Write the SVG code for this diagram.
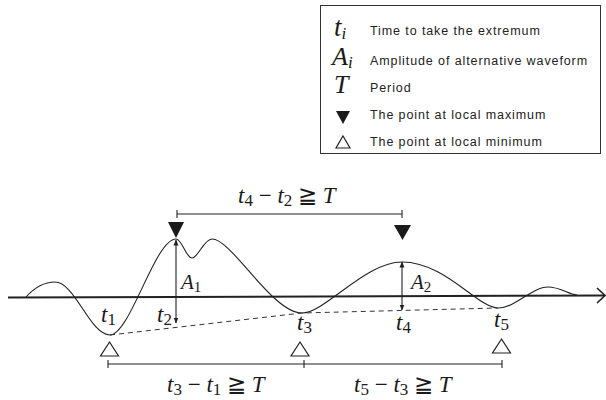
<svg xmlns="http://www.w3.org/2000/svg" width="606" height="400" viewBox="0 0 606 400">
<defs>
<style>
.m{font-family:"Liberation Serif","DejaVu Serif",serif;font-style:italic;fill:#1a1a1a}
.sub{font-family:"Liberation Serif","DejaVu Serif",serif;font-style:normal}
.n{font-family:"Liberation Serif","DejaVu Serif",serif;font-style:normal;fill:#1a1a1a}
.lg{font-family:"Liberation Sans",Arial,sans-serif;font-size:12.5px;letter-spacing:0.9px;fill:#222}
.ln{stroke:#222;stroke-width:1.1;fill:none}
.dn{fill:#1a1a1a}
.up{fill:#fff;stroke:#222;stroke-width:1.2}
</style>
<marker id="ah" viewBox="0 0 6 6" refX="5.5" refY="3" markerWidth="6" markerHeight="6" orient="auto-start-reverse" markerUnits="userSpaceOnUse">
<path d="M0,0.5 L6,3 L0,5.5 z" fill="#222"/>
</marker>
</defs>
<rect width="606" height="400" fill="#fff"/>

<g id="legend">
<rect x="320.5" y="5.5" width="280" height="148" fill="#fff" stroke="#333" stroke-width="1"/>
<text class="m" x="334" y="36" font-size="27">t<tspan class="m" font-size="17" dy="3">i</tspan></text>
<text class="lg" x="370" y="35">Time to take the extremum</text>
<text class="m" x="332" y="65" font-size="26">A<tspan class="m" font-size="17" dy="3">i</tspan></text>
<text class="lg" x="370" y="65">Amplitude of alternative waveform</text>
<text class="m" x="334" y="93" font-size="26">T</text>
<text class="lg" x="370" y="92">Period</text>
<path class="dn" d="M336,111 L350,111 L343,124 z"/>
<text class="lg" x="370" y="119">The point at local maximum</text>
<path class="up" d="M343,136 L350,148 L336,148 z" stroke-width="1"/>
<text class="lg" x="370" y="146">The point at local minimum</text>
</g>

<g id="axis">
<line x1="8" y1="297.5" x2="604" y2="295.5" stroke="#222" stroke-width="2"/>
<path d="M597,288 L605,295.5 L597,303" fill="none" stroke="#222" stroke-width="1.6"/>
</g>

<g id="wave">
<path class="ln" d="M26,297 C35,287 45,282 55,282 C75,282 90,335 110,335 C130,335 155,239 176,239 C182,239 186,258 192,258 C198,258 204,239 212,239 C232,239 272,313 302,313 C325,313 365,262 402,262 C445,262 478,308 498,308 C515,308 532,287 548,287 C560,287 568,294 577,295"/>
</g>

<g id="connectors">
<path d="M110,335 L302,313 L498,308" fill="none" stroke="#333" stroke-width="1" stroke-dasharray="5,4"/>
<line class="ln" x1="176" y1="240" x2="176" y2="323" marker-start="url(#ah)" marker-end="url(#ah)" stroke-width="1"/>
<line class="ln" x1="402" y1="262" x2="402" y2="310" marker-start="url(#ah)" marker-end="url(#ah)" stroke-width="1"/>
<line class="ln" x1="177" y1="214" x2="402" y2="214"/>
<line class="ln" x1="177" y1="210" x2="177" y2="218"/>
<line class="ln" x1="402" y1="210" x2="402" y2="218"/>
<line class="ln" x1="108" y1="364" x2="502" y2="364"/>
<line class="ln" x1="108" y1="360" x2="108" y2="368"/>
<line class="ln" x1="304" y1="360" x2="304" y2="368"/>
<line class="ln" x1="502" y1="360" x2="502" y2="368"/>
</g>

<g id="max1"><path class="dn" d="M168,222 L184,222 L176,238 z"/></g>
<g id="max2"><path class="dn" d="M394,225 L411,225 L402.5,240 z"/></g>
<g id="min1"><path class="up" d="M109.5,342 L118.5,356 L100.5,356 z"/></g>
<g id="min3"><path class="up" d="M300,342 L309,356 L291,356 z"/></g>
<g id="min5"><path class="up" d="M501.5,339 L510.5,353 L492.5,353 z"/></g>

<g id="labels">
<text class="m" x="101" y="322" font-size="23">t<tspan class="sub" font-size="17" dy="3">1</tspan></text>
<text class="m" x="157" y="322" font-size="23">t<tspan class="sub" font-size="17" dy="3">2</tspan></text>
<text class="m" x="297" y="330" font-size="23">t<tspan class="sub" font-size="17" dy="3">3</tspan></text>
<text class="m" x="396" y="330" font-size="23">t<tspan class="sub" font-size="17" dy="3">4</tspan></text>
<text class="m" x="494" y="327" font-size="23">t<tspan class="sub" font-size="17" dy="3">5</tspan></text>
<text class="m" x="181" y="289" font-size="21">A<tspan class="sub" font-size="15" dy="3">1</tspan></text>
<text class="m" x="411" y="289" font-size="21">A<tspan class="sub" font-size="15" dy="3">2</tspan></text>
<text class="m" x="238" y="203" font-size="23">t<tspan class="sub" font-size="17" dy="3">4</tspan><tspan class="n" dy="-3"> − </tspan>t<tspan class="sub" font-size="17" dy="3">2</tspan><tspan class="n" dy="-3"> ≧ </tspan>T</text>
<text class="m" x="167" y="392" font-size="23">t<tspan class="sub" font-size="17" dy="3">3</tspan><tspan class="n" dy="-3"> − </tspan>t<tspan class="sub" font-size="17" dy="3">1</tspan><tspan class="n" dy="-3"> ≧ </tspan>T</text>
<text class="m" x="354" y="392" font-size="23">t<tspan class="sub" font-size="17" dy="3">5</tspan><tspan class="n" dy="-3"> − </tspan>t<tspan class="sub" font-size="17" dy="3">3</tspan><tspan class="n" dy="-3"> ≧ </tspan>T</text>
</g>
</svg>
